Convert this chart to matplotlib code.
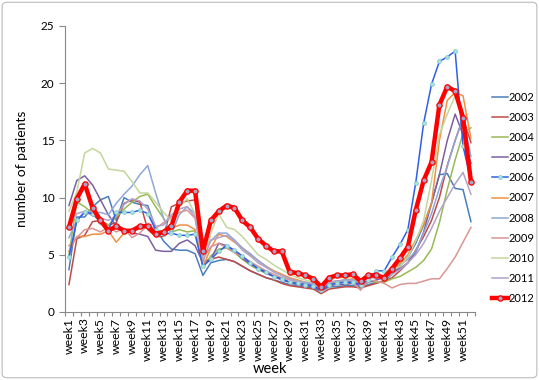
import matplotlib
matplotlib.use("Agg")
import matplotlib.pyplot as plt
from matplotlib.patches import FancyBboxPatch

plt.rcParams['font.family'] = ['Lato', 'DejaVu Sans']

# du lieu doc tu hinh
weeks = list(range(1, 53))
week_labels = ["week%d" % w for w in weeks]

y2002 = [3.7, 8.3, 8.3, 9.2, 9.8, 10.1, 8.0, 10.0, 9.6, 9.4, 9.3, 7.3, 6.2, 5.5, 5.4, 5.4, 5.1, 3.2,
         4.3, 4.5, 4.6, 4.4, 4.0, 3.6, 3.3, 3.0, 2.8, 2.6, 2.4, 2.3, 2.2, 2.1, 1.8, 2.2, 2.2, 2.3,
         2.3, 2.2, 2.4, 2.6, 2.7, 3.3, 4.0, 4.8, 6.0, 7.6, 9.5, 12.0, 12.1, 10.8, 10.7, 7.9]
y2003 = [2.4, 6.4, 6.7, 7.9, 8.0, 7.6, 7.8, 9.5, 9.8, 9.6, 7.2, 6.6, 6.6, 9.2, 9.5, 9.7, 9.8, 4.4,
         4.6, 4.8, 4.6, 4.4, 4.0, 3.6, 3.3, 3.0, 2.8, 2.5, 2.3, 2.2, 2.1, 2.0, 1.6, 2.0, 2.1, 2.2,
         2.2, 2.1, 2.3, 2.5, 2.7, 3.0, 3.6, 4.3, 5.4, 6.6, 8.0, 10.0, 12.8, 15.0, 17.0, 14.8]
y2004 = [5.0, 9.6, 9.2, 8.6, 7.8, 7.6, 8.3, 9.0, 9.6, 10.1, 10.3, 9.2, 8.2, 7.0, 7.2, 7.0, 7.1, 3.9,
         4.9, 5.5, 5.6, 5.2, 4.6, 4.1, 3.7, 3.4, 3.1, 2.9, 2.6, 2.5, 2.4, 2.3, 2.0, 2.5, 2.6, 2.6,
         2.7, 2.5, 2.7, 2.6, 2.6, 2.9, 3.1, 3.5, 3.9, 4.5, 5.5, 7.8, 10.7, 13.3, 15.6, 16.1]
y2005 = [9.3, 11.5, 11.9, 11.1, 9.8, 8.5, 7.5, 7.1, 6.9, 6.8, 6.6, 5.4, 5.3, 5.3, 6.0, 6.3, 5.8, 4.3,
         4.6, 6.0, 5.8, 5.3, 4.7, 4.2, 3.8, 3.4, 3.1, 2.8, 2.6, 2.4, 2.3, 2.2, 1.9, 2.3, 2.4, 2.4,
         2.5, 2.3, 2.6, 2.8, 3.0, 3.4, 3.8, 4.3, 5.2, 7.0, 9.5, 12.0, 15.0, 17.3, 15.5, 13.0]
y2006 = [4.8, 8.0, 8.7, 8.6, 7.9, 7.2, 8.7, 8.7, 8.7, 8.9, 8.6, 7.2, 6.8, 6.9, 6.7, 6.7, 6.8, 4.0,
         4.6, 5.3, 5.8, 5.4, 4.9, 4.3, 3.8, 3.5, 3.1, 2.9, 2.6, 2.5, 2.4, 2.3, 1.9, 2.4, 2.5, 2.6,
         2.6, 2.4, 2.8, 3.6, 3.6, 4.8, 5.9, 7.2, 11.3, 16.5, 19.9, 21.9, 22.3, 22.8, 14.5, 11.5]
y2007 = [5.3, 6.6, 6.6, 6.8, 6.8, 7.1, 6.1, 6.9, 7.1, 7.3, 7.6, 7.1, 7.0, 7.3, 7.6, 7.6, 7.2, 3.9,
         5.6, 6.8, 6.6, 6.1, 5.6, 5.0, 4.5, 4.0, 3.6, 3.3, 3.0, 2.8, 2.6, 2.5, 2.0, 2.6, 2.7, 2.8,
         2.9, 2.7, 3.0, 3.0, 3.2, 3.6, 4.2, 5.0, 6.3, 7.6, 9.5, 15.0, 18.5, 19.2, 18.9, 15.2]
y2008 = [6.5, 8.0, 8.8, 8.7, 8.7, 8.5, 9.5, 10.3, 11.0, 12.0, 12.8, 10.4, 8.2, 6.8, 8.5, 9.2, 8.6, 4.9,
         6.2, 6.9, 6.9, 6.3, 5.6, 5.1, 4.5, 4.0, 3.5, 3.2, 2.9, 2.7, 2.6, 2.5, 2.1, 2.6, 2.7, 2.8,
         2.8, 2.6, 3.1, 3.3, 3.0, 3.5, 4.1, 4.6, 5.3, 6.9, 8.6, 10.8, 12.7, 15.0, 16.9, 13.6]
y2009 = [5.8, 6.5, 7.2, 7.3, 7.0, 7.4, 7.0, 7.3, 6.5, 6.9, 7.6, 7.3, 7.8, 8.3, 8.7, 8.9, 8.2, 4.6,
         5.7, 6.0, 5.6, 5.2, 4.8, 4.4, 4.0, 3.6, 3.3, 3.0, 2.8, 2.6, 2.4, 2.3, 2.0, 2.4, 2.5, 2.6,
         2.6, 1.9, 2.8, 2.7, 2.5, 2.1, 2.4, 2.5, 2.5, 2.7, 2.9, 2.9, 3.8, 4.8, 6.1, 7.4]
y2010 = [8.8, 10.5, 13.9, 14.3, 13.9, 12.5, 12.4, 12.3, 11.4, 10.4, 10.4, 9.6, 8.7, 8.0, 9.2, 9.9, 8.6, 4.2,
         6.9, 8.6, 7.4, 7.2, 6.6, 5.8, 5.0, 4.6, 4.1, 3.7, 3.3, 3.0, 2.8, 2.6, 2.4, 3.0, 3.0, 3.0,
         3.1, 2.8, 3.2, 3.2, 3.2, 3.6, 4.0, 4.8, 6.2, 8.0, 11.5, 15.5, 17.3, 18.9, 17.0, 11.2]
y2011 = [7.5, 8.6, 8.8, 8.4, 8.2, 8.0, 8.4, 9.4, 9.9, 9.7, 9.0, 7.5, 7.6, 8.5, 9.0, 9.2, 8.3, 4.4,
         6.3, 6.5, 6.7, 6.2, 5.4, 4.9, 4.3, 3.9, 3.5, 3.2, 2.9, 2.7, 2.5, 2.4, 1.9, 2.6, 2.7, 2.7,
         2.8, 2.5, 3.0, 3.0, 2.9, 3.3, 3.7, 4.3, 5.0, 6.0, 7.3, 8.8, 10.0, 11.2, 12.2, 10.3]
y2012 = [7.4, 9.9, 11.2, 9.1, 8.0, 7.1, 7.5, 7.1, 7.1, 7.5, 7.5, 6.8, 7.0, 7.5, 9.6, 10.6, 10.6, 5.3,
         8.0, 8.8, 9.3, 9.1, 8.0, 7.4, 6.4, 5.8, 5.3, 5.3, 3.5, 3.4, 3.2, 2.9, 2.2, 3.0, 3.2, 3.2,
         3.3, 2.7, 3.2, 3.2, 3.0, 3.8, 4.7, 5.7, 8.9, 11.5, 13.1, 18.1, 19.7, 19.3, 17.0, 11.4]

years = ["2002", "2003", "2004", "2005", "2006", "2007", "2008", "2009", "2010", "2011", "2012"]
series = [y2002, y2003, y2004, y2005, y2006, y2007, y2008, y2009, y2010, y2011, y2012]
colors = ["#4a7ebb", "#be4b48", "#98b954", "#7d60a0", "#2f5fe8", "#f38f3e",
          "#8fa8d6", "#d99694", "#c3d69b", "#b3a2c7", "#ff0000"]

fig = plt.figure(figsize=(5.39, 3.8), dpi=100)
ax = fig.add_axes([0.1206, 0.179, 0.7604, 0.7526])

for yr, vals, c in zip(years, series, colors):
    if yr == "2012":
        ax.plot(weeks, vals, color=c, lw=3.2, marker="o", ms=3.8,
                mfc="#a9a4c4", mec=c, mew=0.9, label=yr, zorder=5)
    elif yr == "2006":
        ax.plot(weeks, vals, color=c, lw=1.1, marker="o", ms=2.8,
                mfc="#a8e3d8", mec="#7cc3cf", mew=0.5, label=yr, zorder=4)
    else:
        ax.plot(weeks, vals, color=c, lw=1.1, label=yr)

ax.set_xlim(0.5, 52.5)
ax.set_ylim(0, 25)
ax.set_yticks([0, 5, 10, 15, 20, 25])
ax.set_xticks(weeks[::2])
ax.set_xticklabels(week_labels[::2], rotation=90, fontsize=8.8)
ax.set_xticks([w + 0.5 for w in range(0, 53)], minor=True)
ax.tick_params(axis="x", which="major", length=0, pad=4)
ax.tick_params(axis="x", which="minor", length=3, color="#888888", width=0.8)
ax.tick_params(axis="y", length=4, color="#888888", width=0.8, labelsize=8.5)

for s in ["top", "right"]:
    ax.spines[s].set_visible(False)
for s in ["left", "bottom"]:
    ax.spines[s].set_color("#888888")
    ax.spines[s].set_linewidth(0.8)

ax.set_ylabel("number of patients", fontsize=10, labelpad=9)
ax.set_xlabel("week", fontsize=10.5, labelpad=1)

fig.legend(loc="upper left", bbox_to_anchor=(0.905, 0.77), frameon=False,
           fontsize=8, handlelength=1.4, handletextpad=0.1, labelspacing=0.82,
           borderaxespad=0)

# khung vien cua bieu do
frame = FancyBboxPatch((0.004, 0.006), 0.992, 0.988, boxstyle="round,pad=0,rounding_size=0.01",
                       transform=fig.transFigure, fill=False, edgecolor="#bbbbbb", lw=0.8)
fig.patches.append(frame)

fig.savefig("out.png", dpi=100)
